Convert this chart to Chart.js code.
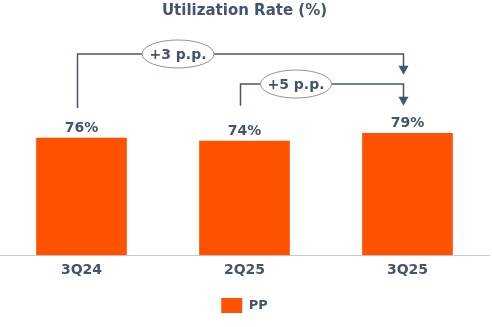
<!DOCTYPE html>
<html><head><meta charset="utf-8">
<script src="https://cdn.jsdelivr.net/npm/chart.js@4/dist/chart.umd.min.js"></script>
<style>html,body{margin:0;padding:0;background:#fff}#wrap{width:492px;height:327px}</style>
</head><body><div id="wrap"><canvas id="c" width="492" height="327"></canvas></div>
<script>
const categories = ['3Q24', '2Q25', '3Q25'];
const ppValues = [76, 74, 79];
const seriesName = 'PP';
const titleText = 'Utilization Rate (%)';
const changes = [
  {from: 0, to: 2, label: '+3 p.p.'},
  {from: 1, to: 2, label: '+5 p.p.'}
];

const TXT = '#44546A';
const FONT = 'DejaVu Sans';

const labelsPlugin = {
  id: 'valLabels',
  afterDatasetsDraw(chart) {
    const ctx = chart.ctx;
    const meta = chart.getDatasetMeta(0);
    ctx.save();
    ctx.fillStyle = TXT;
    ctx.font = 'bold 14px "' + FONT + '"';
    ctx.textAlign = 'center';
    ctx.textBaseline = 'bottom';
    meta.data.forEach((bar, i) => {
      ctx.fillText(ppValues[i] + '%', bar.x, bar.y - 3);
    });
    ctx.restore();
  }
};

const bracketPlugin = {
  id: 'brackets',
  afterDraw(chart) {
    const ctx = chart.ctx;
    const meta = chart.getDatasetMeta(0);
    const ys = chart.scales.y;
    ctx.save();
    ctx.strokeStyle = '#4a5568';
    ctx.fillStyle = '#4a5568';
    ctx.lineWidth = 1.5;
    const levels = [
      {top: 130.5, startLow: 95.5, arrowEnd: 117, rx: 36, ry: 14, dx: -62.5},
      {top: 111, startLow: 97, arrowEnd: 97, rx: 35.5, ry: 14, dx: -26}
    ];
    changes.forEach((c, k) => {
      const L = levels[k];
      const x1 = meta.data[c.from].x - 4;
      const x2 = meta.data[c.to].x - 4;
      const yTop = ys.getPixelForValue(L.top);
      const yLow = ys.getPixelForValue(L.startLow);
      const yArr = ys.getPixelForValue(L.arrowEnd);
      ctx.beginPath();
      ctx.moveTo(x1, yLow);
      ctx.lineTo(x1, yTop);
      ctx.lineTo(x2, yTop);
      ctx.lineTo(x2, yArr - 8);
      ctx.stroke();
      ctx.beginPath();
      ctx.moveTo(x2 - 5, yArr - 9);
      ctx.lineTo(x2 + 5, yArr - 9);
      ctx.lineTo(x2, yArr);
      ctx.closePath();
      ctx.fill();
      const cx = (x1 + x2) / 2 + L.dx;
      ctx.save();
      ctx.beginPath();
      ctx.ellipse(cx, yTop, L.rx, L.ry, 0, 0, Math.PI * 2);
      ctx.fillStyle = '#fff';
      ctx.fill();
      ctx.lineWidth = 1;
      ctx.strokeStyle = '#8a93a0';
      ctx.stroke();
      ctx.fillStyle = TXT;
      ctx.font = 'bold 14px "' + FONT + '"';
      ctx.textAlign = 'center';
      ctx.textBaseline = 'middle';
      ctx.fillText(c.label, cx, yTop + 1);
      ctx.restore();
    });
    ctx.restore();
  }
};

new Chart(document.getElementById('c'), {
  type: 'bar',
  data: {
    labels: categories,
    datasets: [{
      label: seriesName,
      data: ppValues,
      backgroundColor: '#FF5200',
      borderWidth: 0,
      barThickness: 90
    }]
  },
  options: {
    responsive: false,
    animation: false,
    devicePixelRatio: 1,
    layout: {padding: {left: 0, right: 3, top: 0, bottom: 4}},
    plugins: {
      title: {
        display: true, text: titleText, color: TXT,
        font: {family: FONT, size: 15, weight: 'bold'},
        padding: {top: 2, bottom: 81}
      },
      legend: {
        display: true, position: 'bottom',
        labels: {
          color: TXT, boxWidth: 21, boxHeight: 15, padding: 12,
          font: {family: FONT, size: 13, weight: 'bold'}
        }
      },
      tooltip: {enabled: false}
    },
    scales: {
      x: {
        offset: true,
        grid: {display: false, drawTicks: false},
        border: {display: true, color: '#c9c9c9', width: 1},
        ticks: {color: TXT, padding: 7, font: {family: FONT, size: 14, weight: 'bold'}}
      },
      y: {
        display: false, min: 0, max: 100
      }
    }
  },
  plugins: [labelsPlugin, bracketPlugin]
});
</script></body></html>
